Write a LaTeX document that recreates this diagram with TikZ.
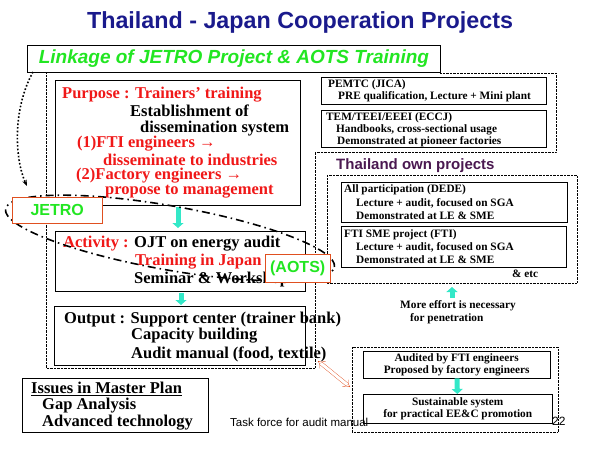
\documentclass[tikz,border=0pt]{standalone}
\usepackage{fontspec}
\setmainfont{Liberation Serif}
\setsansfont{Liberation Sans}
\usetikzlibrary{arrows.meta}
\definecolor{navy}{HTML}{1A1A8C}
\definecolor{lgreen}{HTML}{22E622}
\definecolor{tred}{HTML}{F01818}
\definecolor{aqua}{HTML}{33E8C8}
\definecolor{rust}{HTML}{E05020}
\definecolor{plum}{HTML}{4A1850}
\tikzset{
  box/.style={draw, thick, fill=white},
  txt/.style={anchor=west, inner sep=0pt, font=\bfseries},
  big/.style={txt, font=\bfseries\fontsize{16.5}{18}\selectfont},
  small/.style={txt, font=\bfseries\fontsize{11.3}{12}\selectfont},
  dotframe/.style={draw, densely dotted, thin},
  upflow/.style={draw=aqua, line width=5pt, -{Triangle[width=11pt,length=5pt]}},
}
\begin{document}
\begin{tikzpicture}[x=1pt, y=-1pt]
    \useasboundingbox (0,0) rectangle (600,450);

    % title
    \node[font=\sffamily\bfseries\fontsize{23.3}{25}\selectfont, text=navy] (title) at (300,22) {Thailand - Japan Cooperation Projects};

    % dotted frames
    \draw[dotframe] (46,72) -- (46,368) -- (315,368) -- (315,152) -- (556,152) -- (556,73) -- (440,73);
    \draw[dotframe] (327,175) rectangle (577,283);
    \draw[dotframe] (352,347) rectangle (558,432);

    % linkage
    \node[box, minimum width=413pt, minimum height=27pt, anchor=north west,
      font=\sffamily\bfseries\itshape\fontsize{19}{20}\selectfont, text=lgreen] (link) at (27,45) {Linkage of JETRO Project \& AOTS Training};

    % JETRO side
    \draw[box] (55,80) rectangle (300,205);
    \node[big, text=tred] (purpose) at (62,95) {Purpose : Trainers' training};
    \node[big] (estab1) at (130,111) {Establishment of};
    \node[big] (estab2) at (140,129) {dissemination system};
    \node[big, text=tred] (fti1) at (77,144) {(1)FTI engineers →};
    \node[big, text=tred] (fti2) at (103,160) {disseminate to industries};
    \node[big, text=tred] (fac1) at (76,176) {(2)Factory engineers →};
    \node[big, text=tred] (fac2) at (105,192) {propose to management};

    \draw[box] (55,231) rectangle (305,291);
    \node[big] (act1) at (63,244) {\textcolor{tred}{Activity :} OJT on energy audit};
    \node[big, text=tred] (act2) at (135,262) {Training in Japan};
    \node[big] (act3) at (134,280) {Seminar \& Workshop};

    \draw[box] (54,306) rectangle (305,365);
    \node[big] (out1) at (64,320) {Output : Support center (trainer bank)};
    \node[big] (out2) at (131,336) {Capacity building};
    \node[big] (out3) at (131,354) {Audit manual (food, textile)};

    \coordinate (p1) at (178,207);
    \coordinate (a1) at (178,228);
    \coordinate (p2) at (181,293);
    \coordinate (a2) at (181,305);
    \draw[upflow] (p1) -- (a1);
    \draw[upflow] (p2) -- (a2);

    % dash-dot loop
    \draw[line width=1.6pt, dash pattern=on 8pt off 4pt on 1.5pt off 4pt, rotate around={-10:(170,238)}]
      (170,238) ellipse (167pt and 32pt);

    \node[draw=rust, fill=white, minimum width=90pt, minimum height=26pt, anchor=north west,
      font=\sffamily\bfseries\fontsize{16}{18}\selectfont, text=lgreen] (jetro) at (12,197) {JETRO};
    \node[draw=rust, fill=white, minimum width=65pt, minimum height=28pt, anchor=north west,
      font=\sffamily\bfseries\fontsize{16}{18}\selectfont, text=lgreen] (aots) at (265,254) {(AOTS)};

    \coordinate (lk) at (33,72);
    \coordinate (jt) at (27,186);
    \draw[line width=1.6pt, dotted, -{Stealth[length=6pt]}] (lk) .. controls (12,110) and (15,160) .. (jt);

    % donor projects
    \node[box, thin, minimum width=225pt, minimum height=27pt, anchor=north west, inner sep=0pt] (pemtc) at (321,77) {};
    \node[small] (pemtc1) at (328,85) {PEMTC (JICA)};
    \node[small] (pemtc2) at (338,97) {PRE qualification, Lecture + Mini plant};
    \node[box, thin, minimum width=225pt, minimum height=37pt, anchor=north west, inner sep=0pt] (tem) at (321,110) {};
    \node[small] (tem1) at (326,118) {TEM/TEEI/EEEI (ECCJ)};
    \node[small] (tem2) at (336,130) {Handbooks, cross-sectional usage};
    \node[small] (tem3) at (337,142) {Demonstrated at pioneer factories};

    % Thailand own projects
    \node[txt, text=plum, font=\sffamily\bfseries\fontsize{15}{17}\selectfont] (own) at (336,166) {Thailand own projects};
    \node[box, thin, minimum width=226pt, minimum height=40pt, anchor=north west, inner sep=0pt] (dede) at (341,182) {};
    \node[small] (dede1) at (344,190) {All participation (DEDE)};
    \node[small] (dede2) at (356,203) {Lecture + audit, focused on SGA};
    \node[small] (dede3) at (356,216) {Demonstrated at LE \& SME};
    \node[box, thin, minimum width=225pt, minimum height=41pt, anchor=north west, inner sep=0pt] (fsme) at (341,226) {};
    \node[small] (fsme1) at (344,235) {FTI SME project (FTI)};
    \node[small] (fsme2) at (356,247) {Lecture + audit, focused on SGA};
    \node[small] (fsme3) at (356,260) {Demonstrated at LE \& SME};
    \node[small] (etc) at (512,274) {\& etc};

    \coordinate (m1) at (452,298);
    \coordinate (m2) at (452,287);
    \draw[upflow] (m1) -- (m2);
    \node[font=\bfseries\fontsize{11.3}{13}\selectfont, align=left, inner sep=0pt] (more) at (458,312)
      {More effort is necessary\\\hspace*{10pt}for penetration};

    % sustainable system
    \node[box, thin, minimum width=187pt, minimum height=27pt, anchor=north west,
      font=\bfseries\fontsize{11.3}{12}\selectfont, align=center, inner sep=0pt] (audit) at (363,351)
      {Audited by FTI engineers\\Proposed by factory engineers};
    \node[box, thin, minimum width=189pt, minimum height=29pt, anchor=north west,
      font=\bfseries\fontsize{11.3}{12}\selectfont, align=center, inner sep=0pt] (sust) at (363,394)
      {Sustainable system\\for practical EE\&C promotion};
    \draw[draw=aqua, line width=5pt, -{Triangle[width=11pt,length=5pt]}] (audit) -- (sust);

    \coordinate (d1) at (318,361);
    \coordinate (d2) at (350,387);
    \draw[rust, double, double distance=3pt, {Implies}-{Implies}] (d1) -- (d2);

    % issues
    \draw[box] (22,378) rectangle (208,432);
    \node[big] (iss1) at (31,389) {\underline{Issues in Master Plan}};
    \node[big] (iss2) at (42,406) {Gap Analysis};
    \node[big] (iss3) at (42,423) {Advanced technology};

    \node[txt, font=\sffamily\fontsize{11.5}{12}\selectfont] (task) at (230,422) {Task force for audit manual};
    \node[txt, font=\sffamily\fontsize{12}{13}\selectfont] (page) at (552,421) {22};
\end{tikzpicture}
\end{document}
